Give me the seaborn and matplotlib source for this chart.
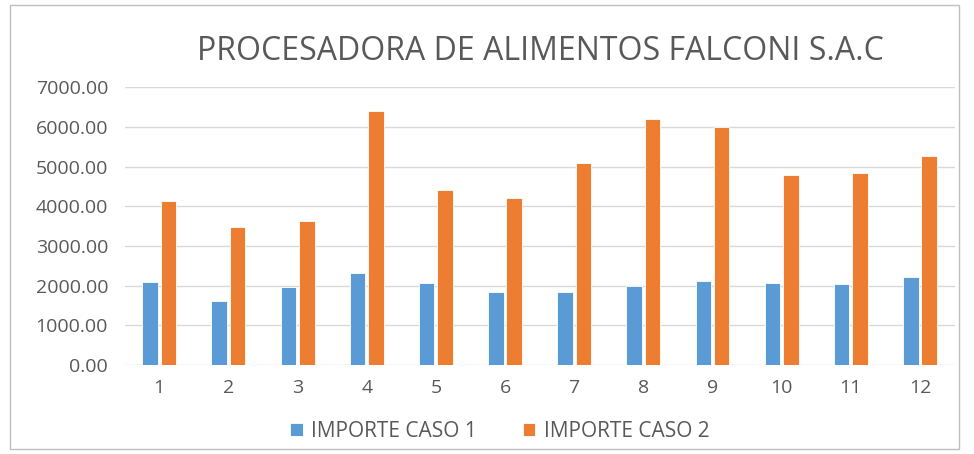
import pandas as pd
import matplotlib
matplotlib.use("Agg")
import matplotlib.pyplot as plt
import seaborn as sns
from matplotlib.ticker import FormatStrFormatter

# datos
meses = [1, 2, 3, 4, 5, 6, 7, 8, 9, 10, 11, 12]
caso1 = [2100, 1620, 1975, 2330, 2075, 1850, 1850, 2000, 2125, 2075, 2050, 2225]
caso2 = [4120, 3470, 3640, 6395, 4400, 4220, 5085, 6195, 5990, 4780, 4825, 5275]
series = ["IMPORTE CASO 1", "IMPORTE CASO 2"]
colores = ["#5B9BD5", "#ED7D31"]

df = pd.DataFrame({
    "mes": meses * 2,
    "importe": caso1 + caso2,
    "serie": [series[0]] * len(meses) + [series[1]] * len(meses),
})

sns.set_style("white")
plt.rcParams["font.family"] = ["Open Sans", "DejaVu Sans"]

fig = plt.figure(figsize=(9.74, 4.54), dpi=100)
ax = fig.add_axes([0.128, 0.196, 0.852, 0.612])

sns.barplot(data=df, x="mes", y="importe", hue="serie", palette=colores,
            saturation=1, width=0.53, gap=0.15, edgecolor="#FFFFFF",
            linewidth=0.6, ax=ax)

ax.set_ylim(0, 7000)
ax.set_yticks(range(0, 7001, 1000))
ax.yaxis.set_major_formatter(FormatStrFormatter("%.2f"))
ax.grid(axis="y", color="#D9D9D9", linewidth=1)
ax.set_axisbelow(True)
for s in ax.spines.values():
    s.set_visible(False)
ax.tick_params(axis="both", length=0, labelsize=14, colors="#595959")
ax.tick_params(axis="x", pad=10)
ax.tick_params(axis="y", pad=12)
ax.set_xlabel("")
ax.set_ylabel("")

fig.text(0.555, 0.886, "PROCESADORA DE ALIMENTOS FALCONI S.A.C", ha="center",
         va="center", fontsize=23, color="#595959")

ax.legend(loc="center", bbox_to_anchor=(0.452, -0.24), ncol=2, frameon=False,
          fontsize=15, labelcolor="#595959", handlelength=0.6, handleheight=0.6,
          columnspacing=2.2, handletextpad=0.4)

fig.patches.append(plt.Rectangle((0.01, 0.01), 0.975, 0.98, transform=fig.transFigure,
                                 fill=False, edgecolor="#BFBFBF", linewidth=1))

fig.savefig("out.png", dpi=100)
